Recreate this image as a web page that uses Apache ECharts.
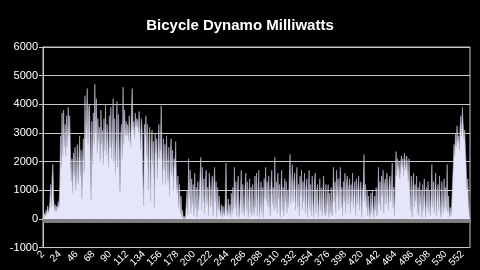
<!DOCTYPE html>
<html>
<head>
<meta charset="utf-8">
<script src="https://cdn.jsdelivr.net/npm/echarts@6/dist/echarts.min.js"></script>
<style>
html,body{margin:0;padding:0;background:#000;}
#c{width:480px;height:270px;}
</style>
</head>
<body>
<div id="c"></div>
<script>
var titleText = "Bicycle Dynamo Milliwatts";
var firstCategory = 2;
var labelEvery = 22;
var yTicks = [-1000, 0, 1000, 2000, 3000, 4000, 5000, 6000];

var milliwatts = [
  0, 50, 200, 80, 300, 150, 450, 200, 350,
  600, 1200, 400, 1500, 1900, 700,
  300, 500, 250, 450, 350, 600, 400,
  1200, 2900, 1800, 3700,
  2200, 3800, 2500, 3300, 2200, 3600,
  2500, 3900, 2900, 3600, 2400, 1300, 2100,
  900, 2300, 1500, 2500, 1000, 1800, 2600, 1200, 2000,
  2900, 1500, 2400, 700, 2100, 2800, 1600,
  4300, 2800, 3500, 4550, 2600, 3900,
  4000, 2500, 650, 3400, 1900, 3700, 2600,
  4700, 3000, 4200, 2300, 3500, 2700,
  3200, 2000, 3800, 2600, 3100, 1900, 3500, 2400, 4000, 2200, 3300, 2800, 1800, 3600, 2500, 3900, 2100, 3000,
  4200, 2000, 3500, 1550, 2800, 4100, 1800,
  3650, 2400, 900, 2900, 3300, 2100,
  4600, 2600, 3800, 2900, 3400,
  2900, 3300, 2700, 3600, 3000, 2500, 3800,
  4550, 3100, 3400, 2800, 3700, 3200, 3500,
  3400, 3000, 3750, 3200, 2400, 3500, 3100, 1500, 450, 3300, 2900, 3600,
  2200, 3300, 1000, 2800, 3200, 600, 2600, 3100, 1900, 2700, 400, 3000, 2300, 2800, 1400, 2600, 3300, 2100, 2500,
  3950, 2400, 1200, 2800,
  1700, 2600, 1200, 2900, 2000, 1300, 2500, 800, 2200, 2800, 1500, 2400, 1000, 2100, 1800, 2700, 1300,
  900, 1500, 400, 1200, 200, 800, 50, 300, 0, 100, 0,
  100, 600, 1000, 150, 2100, 700, 1700, 200,
  1400, 500, 1200, 100, 1600, 400, 1100, 50, 1300, 300, 900, 1500,
  2150, 300, 1800, 600, 1400, 150, 1300, 1700, 500, 1100, 100, 1600, 1200, 400,
  1000, 1500, 100, 1200, 1800, 600, 1300, 50, 1100, 300, 800,
  300, 100, 500, 50, 450, 200, 100, 600,
  1950, 300, 100, 700, 150, 500, 50, 900, 150, 1100, 300,
  1800, 400, 1300, 100, 1000, 1500, 50, 400, 900,
  1700, 200, 1200, 500, 100, 1100,
  1600, 300, 1300, 50, 900, 1400, 200, 1100, 100, 1200, 500, 150, 1500, 400,
  1600, 100, 1000, 1700, 50, 600, 1300, 200, 1100, 50, 1400, 700,
  1800, 600, 1300, 400, 1500, 800, 100, 1200, 1700, 500, 1100, 300,
  2150,
  400, 1300, 200, 1600, 700, 1200, 50, 1000, 1700, 300, 1100, 100, 1400, 600, 1300, 200, 1000,
  400, 1400, 2250, 500, 1200,
  1900, 600, 1300, 1600, 300, 1100, 1800, 400, 1200, 100, 1500, 800, 1700, 300, 1300, 600, 1600, 200, 1100, 1400, 50, 1000,
  1700, 300, 1200, 100, 1500, 600, 50, 1300, 1600, 200, 1000, 1200, 50, 600, 1400, 300, 1100, 100, 900, 1500, 400, 100, 1200, 200, 800,
  1200, 50, 900, 200, 1100, 100, 700,
  1800, 600, 1300, 200, 1700, 800, 1400, 300, 1200, 1800, 400, 1100, 100, 1300, 600, 1600, 200, 1200,
  1500, 500, 1100, 1400, 200, 1200, 600, 1600, 400, 1000, 1300, 100, 1400, 500, 1100, 1500, 300, 1000, 1300, 50, 900, 1200,
  2250,
  600, 1200, 400, 1000, 100, 800, 300, 50, 900, 200, 1000, 400, 50, 800, 300, 1100, 100, 700,
  1800,
  500, 1300, 300, 1500, 800, 1700, 200, 1200, 1400, 500, 1600, 1100, 300, 1300, 1500, 600, 1200, 1950, 400, 1100, 100, 1400, 2350, 1500,
  2100, 1700, 2000, 1400, 1900, 2200, 1800, 2100, 1500, 2300, 2000, 1700, 2200, 1900, 1300, 2100,
  1200, 300, 1500, 50, 1100, 1600, 400, 1200,
  600, 1500, 200, 1100, 100, 1300, 500, 1000, 50, 1200, 300, 1400, 600, 50, 1100, 400, 1300, 200, 1000, 100, 800,
  1900, 400, 1300, 200, 1100, 1600, 100, 900,
  1200, 300, 1500, 500, 50, 1300, 700, 200, 1400, 400, 1100, 300,
  1900,
  200, 800, 50, 400, 100, 500, 1200, 1800,
  2600, 2200, 3000, 2500, 3250, 2700, 2900, 2400,
  3200, 3600, 2900, 3900, 3300, 2800,
  3100, 2400, 1800, 1000, 1400, 600, 200, 0
];

var categories = [];
for (var i = 0; i < milliwatts.length; i++) categories.push(String(firstCategory + i));

var chart = echarts.init(document.getElementById('c'), null, {renderer: 'canvas'});
chart.setOption({
  backgroundColor: '#000000',
  animation: false,
  title: {
    text: titleText,
    left: 'center',
    top: 13,
    textStyle: {color: '#ffffff', fontSize: 15, fontWeight: 'bold', fontFamily: 'Liberation Sans, Arial, sans-serif'}
  },
  grid: {left: 43, right: 10, top: 47, bottom: 13, show: true, borderColor: '#c8c8c8', borderWidth: 1, backgroundColor: 'transparent'},
  xAxis: {
    type: 'category',
    data: categories,
    boundaryGap: false,
    axisLine: {onZero: true, lineStyle: {color: '#c8c8c8', width: 1}},
    axisTick: {show: true, interval: 0, length: 4, lineStyle: {color: '#808080', width: 1}},
    axisLabel: {interval: labelEvery - 1, rotate: 45, color: '#ffffff', fontSize: 10, margin: 5, fontFamily: 'Liberation Sans, Arial, sans-serif'},
    splitLine: {show: false}
  },
  yAxis: {
    type: 'value',
    min: yTicks[0],
    max: yTicks[yTicks.length - 1],
    interval: 1000,
    axisLine: {show: true, lineStyle: {color: '#c8c8c8'}},
    axisTick: {show: true, length: 4, lineStyle: {color: '#c8c8c8'}},
    axisLabel: {color: '#ffffff', fontSize: 11, margin: 5, fontFamily: 'Liberation Sans, Arial, sans-serif', formatter: function (v) { return String(v); }},
    splitLine: {show: true, lineStyle: {color: '#c8c8c8', width: 1}}
  },
  series: [{
    type: 'line',
    data: milliwatts,
    showSymbol: false,
    symbol: 'none',
    lineStyle: {color: '#b8b8cc', width: 0.6},
    areaStyle: {color: '#e6e6fa', opacity: 1},
    z: 1
  }]
});
</script>
</body>
</html>
